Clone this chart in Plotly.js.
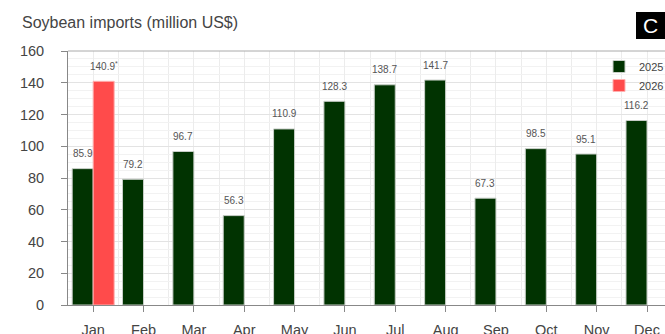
<!DOCTYPE html>
<html>
<head>
<meta charset="utf-8">
<script src="https://cdn.plot.ly/plotly-3.0.1.min.js"></script>
<style>html,body{margin:0;padding:0;overflow:hidden;background:#fff}</style>
</head>
<body>
<div id="chart" style="width:665px;height:334px"></div>
<script>
const months = ['Jan','Feb','Mar','Apr','May','Jun','Jul','Aug','Sep','Oct','Nov','Dec'];
const v2025 = [85.9,79.2,96.7,56.3,110.9,128.3,138.7,141.7,67.3,98.5,95.1,116.2];
const v2026 = [140.9,null,null,null,null,null,null,null,null,null,null,null];
const labels2025 = ['85.9','79.2','96.7','56.3','110.9','128.3','138.7','141.7','67.3','98.5','95.1','116.2'];
const labels2026 = ['140.9<sup>*</sup>'];
const yTicks = [0,20,40,60,80,100,120,140,160];

const idx = months.map((m,i)=>i);
const bargap = 0.166;
const half = (1-bargap)/4;

const traces = [
  {type:'bar', name:'2025', x:idx, y:v2025, marker:{color:'#013301', line:{color:'#c9cfc9', width:1}}},
  {type:'bar', name:'2026', x:idx, y:v2026, marker:{color:'#ff4b4b', line:{color:'#ffb0b0', width:1}}}
];

const annotations = [];
v2025.forEach((v,i)=>{
  annotations.push({x:i-half, y:v, text:labels2025[i], showarrow:false, yshift:15, yanchor:'middle',
    font:{size:10, color:'#555', family:'Liberation Sans, Arial, sans-serif'}});
});
v2026.forEach((v,i)=>{
  if(v!==null) annotations.push({x:i+half, y:v, text:labels2026[i], showarrow:false, yshift:15, yanchor:'middle',
    font:{size:10, color:'#555', family:'Liberation Sans, Arial, sans-serif'}});
});
annotations.push({xref:'paper', yref:'paper', x:(650.5-68)/597, y:(305-25.5)/254, text:'C', showarrow:false,
  xanchor:'center', yanchor:'middle', font:{size:21, color:'#fff', family:'Liberation Sans, Arial, sans-serif'}});

const layout = {
  width:665, height:334,
  margin:{l:68, r:0, t:51, b:29, autoexpand:false},
  paper_bgcolor:'#fff', plot_bgcolor:'#fff',
  font:{family:'Liberation Sans, Arial, sans-serif', color:'#444'},
  title:{text:'Soybean imports (million US$)', xref:'container', yref:'container', x:22/665, xanchor:'left', y:1-22/334, yanchor:'middle',
    font:{size:16, color:'#444'}},
  barmode:'group', bargap:bargap, bargroupgap:0,
  showlegend:true,
  legend:{x:(599-68)/597, xanchor:'left', y:1-(52-51)/254, yanchor:'top', bgcolor:'rgba(0,0,0,0)',
    font:{size:11, color:'#444'}, tracegroupgap:0},
  xaxis:{range:[-0.5, 11 + (665-647)/50.36], tickvals:idx, ticktext:months, showgrid:true, gridcolor:'#ececec', gridwidth:1,
    minor:{tickvals:idx.map(i=>i-0.5).concat([11.5]), showgrid:true, gridcolor:'#ececec', ticks:''},
    showline:true, linecolor:'#888', linewidth:1, ticks:'outside', ticklen:6, tickcolor:'#888',
    tickfont:{size:14.5, color:'#444'}, ticklabelstandoff:6, zeroline:false, fixedrange:true, automargin:false},
  yaxis:{range:[0,160], tickvals:yTicks, showgrid:true, gridcolor:'#e3e3e3', gridwidth:1,
    minor:{dtick:5, showgrid:true, gridcolor:'#f2f2f2'},
    showline:true, linecolor:'#888', linewidth:1, ticks:'outside', ticklen:6, tickcolor:'#888',
    tickfont:{size:14.5, color:'#444'}, ticklabelstandoff:14, zeroline:false, fixedrange:true, automargin:false},
  shapes:[
    {type:'line', xref:'paper', yref:'paper', x0:0, x1:1, y0:1, y1:1, line:{color:'#aaa', width:1}},
    {type:'rect', xref:'paper', yref:'paper', x0:(636-68)/597, x1:1.0, y0:(305-39)/254, y1:(305-12)/254, fillcolor:'#000', line:{width:0}}
  ],
  annotations:annotations
};

Plotly.newPlot('chart', traces, layout, {displayModeBar:false, staticPlot:true});
</script>
</body>
</html>
